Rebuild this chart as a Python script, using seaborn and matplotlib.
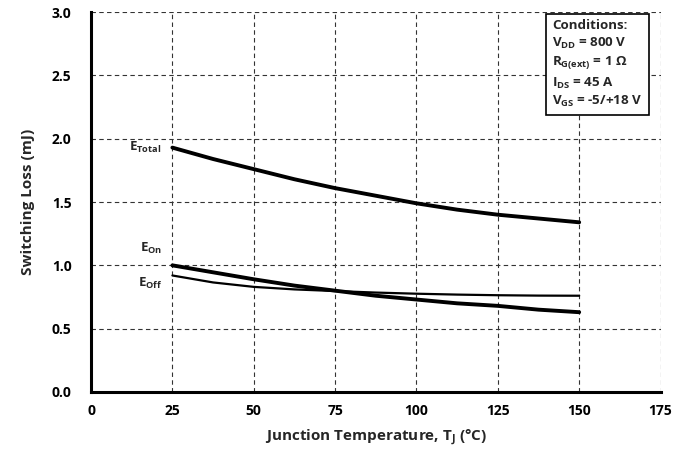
import matplotlib
matplotlib.use("Agg")
import matplotlib.pyplot as plt
import seaborn as sns
import pandas as pd

temps = [25, 37.5, 50, 62.5, 75, 87.5, 100, 112.5, 125, 137.5, 150]
e_total = [1.93, 1.84, 1.76, 1.68, 1.61, 1.55, 1.49, 1.44, 1.40, 1.37, 1.34]
e_on = [1.00, 0.945, 0.89, 0.84, 0.80, 0.76, 0.73, 0.70, 0.68, 0.65, 0.63]
e_off = [0.92, 0.865, 0.83, 0.81, 0.797, 0.785, 0.776, 0.769, 0.764, 0.761, 0.76]
x_ticks = [0, 25, 50, 75, 100, 125, 150, 175]
y_ticks = [0.0, 0.5, 1.0, 1.5, 2.0, 2.5, 3.0]

sns.set_style("white")
plt.rcParams['font.family'] = ['Open Sans', 'DejaVu Sans']
plt.rcParams['font.weight'] = 'bold'
plt.rcParams['mathtext.fontset'] = 'custom'
plt.rcParams['mathtext.rm'] = 'Open Sans:bold'
plt.rcParams['mathtext.bf'] = 'Open Sans:bold'
plt.rcParams['mathtext.it'] = 'Open Sans:bold'

n = len(temps)
df = pd.DataFrame({
    "T": temps * 3,
    "E": e_total + e_on + e_off,
    "series": ["Total"] * n + ["On"] * n + ["Off"] * n,
})

fig = plt.figure(figsize=(6.87, 4.5), dpi=100)
ax = fig.add_axes([0.1325, 0.129, 0.829, 0.844])

sns.lineplot(data=df, x="T", y="E", hue="series", size="series",
             palette={"Total": "black", "On": "black", "Off": "black"},
             sizes={"Total": 2.8, "On": 2.8, "Off": 1.6},
             legend=False, ax=ax, zorder=3)

ax.set_xlim(0, 175)
ax.set_ylim(0, 3.0)
ax.set_xticks(x_ticks)
ax.set_yticks(y_ticks)
ax.set_xticklabels([str(t) for t in x_ticks], fontsize=10, fontweight='bold')
ax.set_yticklabels([f"{t:.1f}" for t in y_ticks], fontsize=10, fontweight='bold')
ax.grid(True, linestyle=(0, (4, 3)), color='#333333', linewidth=0.8)
ax.tick_params(axis='both', direction='inout', length=6, width=1.5, colors='black')
ax.tick_params(axis='y', pad=11)
ax.tick_params(axis='x', pad=6)
for s in ['top', 'right']:
    ax.spines[s].set_visible(False)
for s in ['left', 'bottom']:
    ax.spines[s].set_linewidth(2.2)
    ax.spines[s].set_color('black')

ax.set_xlabel("Junction Temperature, T$_\\mathregular{J}$ (°C)", fontsize=11, fontweight='bold', labelpad=6)
ax.set_ylabel("Switching Loss (mJ)", fontsize=11, fontweight='bold', labelpad=12)

ax.text(21.5, 1.93, r"E$_\mathregular{Total}$", fontsize=9.5, fontweight='bold', ha='right', va='center')
ax.text(22, 1.13, r"E$_\mathregular{On}$", fontsize=9.5, fontweight='bold', ha='right', va='center')
ax.text(22, 0.86, r"E$_\mathregular{Off}$", fontsize=9.5, fontweight='bold', ha='right', va='center')

cond = ("Conditions:\n"
        "V$_\\mathregular{DD}$ = 800 V\n"
        "R$_\\mathregular{G(ext)}$ = 1 Ω\n"
        "I$_\\mathregular{DS}$ = 45 A\n"
        "V$_\\mathregular{GS}$ = -5/+18 V")
ax.text(0.81, 0.982, cond, transform=ax.transAxes, fontsize=9.6, fontweight='bold',
        ha='left', va='top', linespacing=1.32,
        bbox=dict(boxstyle='square,pad=0.45', facecolor='white', edgecolor='black', linewidth=1.2),
        zorder=5)

fig.savefig("out.png", dpi=100)
